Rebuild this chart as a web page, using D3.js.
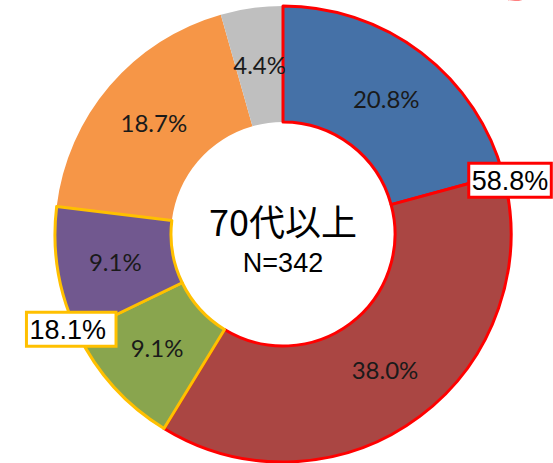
<!DOCTYPE html>
<html>
<head>
<meta charset="utf-8">
<script src="https://cdn.jsdelivr.net/npm/d3@7"></script>
<style>
  body { margin: 0; background: #fff; }
  svg { display: block; }
</style>
</head>
<body>
<script>
// slice values, clockwise from 12 o'clock
var sliceNames = ["s1", "s2", "s3", "s4", "s5", "s6"];
var sliceValues = [20.8, 38.0, 9.1, 9.1, 18.7, 4.4];
var sliceColors = ["#4571a7", "#aa4643", "#89a54e", "#71588f", "#f69647", "#bfbfbf"];

// highlighted groups (sum labels)
var groupLabels = ["58.8%", "18.1%"];
var groupMembers = [[0, 1], [2, 3]];
var groupStroke = ["#ff0000", "#ffc000"];

var centerTitle = "70代以上";
var centerSub = "N=342";

var screen = {width: 553, height: 463};
var cx = 283, cy = 234;
var outerR = 228, innerR = 112;

var svg = d3.select("body")
            .append("svg")
            .attr("width", screen.width)
            .attr("height", screen.height);

// part of another callout peeking in at top right
svg.append("ellipse")
   .attr("cx", 515).attr("cy", -36)
   .attr("rx", 42).attr("ry", 35)
   .attr("fill", "#fff")
   .attr("stroke", "#ff0000")
   .attr("stroke-width", 3);

var pie = d3.pie().sort(null).value(function(d) { return d.value; });

var data = sliceValues.map(function(v, i) {
  return {name: sliceNames[i], value: v, color: sliceColors[i], idx: i};
});
var arcs = pie(data);

var arc = d3.arc().innerRadius(innerR).outerRadius(outerR);

var g = svg.append("g").attr("transform", "translate(" + cx + "," + cy + ")");

function groupOf(i) {
  for (var k = 0; k < groupMembers.length; k++) {
    if (groupMembers[k].indexOf(i) >= 0) return k;
  }
  return -1;
}

// draw plain slices first, then outlined groups (red, then yellow on top)
var order = arcs.slice().sort(function(a, b) {
  return groupOf(a.data.idx) - groupOf(b.data.idx);
});

g.selectAll("path.slice")
 .data(order)
 .enter()
 .append("path")
 .attr("class", "slice")
 .attr("d", arc)
 .attr("fill", function(d) { return d.data.color; })
 .attr("stroke", function(d) {
   var k = groupOf(d.data.idx);
   return k < 0 ? "none" : groupStroke[k];
 })
 .attr("stroke-width", 3)
 .attr("stroke-linejoin", "round");

// slice percentage labels
g.selectAll("text.pct")
 .data(arcs)
 .enter()
 .append("text")
 .attr("class", "pct")
 .attr("x", function(d) { return arc.centroid(d)[0]; })
 .attr("y", function(d) { return arc.centroid(d)[1]; })
 .attr("dy", "0.36em")
 .attr("text-anchor", "middle")
 .style("font-family", "Lato, 'Open Sans', sans-serif")
 .style("font-size", "24px")
 .style("fill", "#1a1a1a")
 .text(function(d) { return d.data.value.toFixed(1) + "%"; });

// center text
g.append("text")
 .attr("x", 0).attr("y", 2)
 .attr("text-anchor", "middle")
 .style("font-family", "'Noto Sans CJK JP', 'Liberation Sans', sans-serif")
 .style("font-size", "36px")
 .style("fill", "#000")
 .text(centerTitle);

g.append("text")
 .attr("x", 0).attr("y", 38)
 .attr("text-anchor", "middle")
 .style("font-family", "'Liberation Sans', Arial, sans-serif")
 .style("font-size", "27px")
 .style("fill", "#000")
 .text(centerSub);

// group sum callouts, placed at the boundary between the two members
var boxOffset = [[7, 6], [-10, -4]];
var boxPadRight = [3, 10];
groupMembers.forEach(function(m, k) {
  var a = arcs[m[0]].endAngle;
  var px = Math.sin(a) * outerR + boxOffset[k][0];
  var py = -Math.cos(a) * outerR + boxOffset[k][1];
  var box = g.append("g").attr("transform", "translate(" + px + "," + py + ")");
  var rect = box.append("rect");
  var t = box.append("text")
             .attr("text-anchor", "middle")
             .attr("dy", "0.36em")
             .style("font-family", "'Liberation Sans', Arial, sans-serif")
             .style("font-size", "27px")
             .style("fill", "#000")
             .text(groupLabels[k]);
  var bb = t.node().getBBox();
  rect.attr("x", bb.x - 3).attr("y", -17)
      .attr("width", bb.width + 3 + boxPadRight[k]).attr("height", 34)
      .attr("fill", "#fff")
      .attr("stroke", groupStroke[k])
      .attr("stroke-width", 3);
});
</script>
</body>
</html>
